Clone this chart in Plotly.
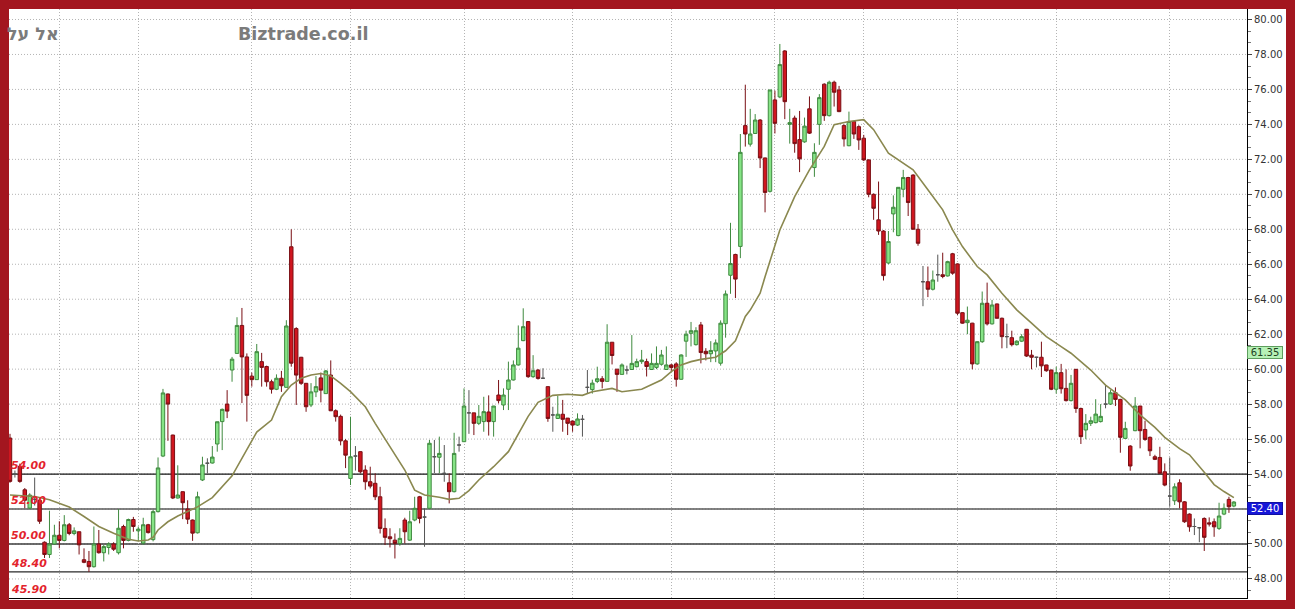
import plotly.graph_objects as go

# ---------------- data ----------------
opens = [56.06, 54.0, 54.44, 53.1, 52.05, 52.55, 52.5, 50.1, 49.4, 50.0,
         50.5, 50.2, 51.1, 50.6, 50.7, 49.1, 49.0, 48.7, 50.0, 49.5,
         49.8, 50.0, 49.5, 51.0, 50.2, 51.4, 50.75, 50.05, 51.1, 50.25,
         51.85, 55.03, 58.58, 56.23, 52.63, 52.99, 52.0, 51.37, 50.64, 53.66,
         54.62, 54.63, 55.72, 57.0, 58.0, 59.95, 60.9, 62.5, 60.7, 59.6,
         59.4, 60.43, 60.15, 59.28, 58.85, 59.48, 58.96, 67.0, 62.32, 60.68,
         59.19, 57.95, 58.7, 59.5, 58.6, 59.66, 57.62, 57.3, 55.9, 53.75,
         55.03, 55.28, 54.23, 53.56, 53.47, 52.7, 50.89, 50.41, 50.22, 50.03,
         51.37, 50.22, 51.37, 52.7, 51.54, 52.04, 54.99, 54.96, 54.04, 53.5,
         52.99, 55.66, 55.85, 57.5, 57.5, 56.9, 57.0, 57.55, 57.0, 58.52,
         57.95, 58.85, 59.38, 60.24, 61.63, 62.72, 59.57, 59.95, 59.48, 59.0,
         57.38, 57.18, 57.42, 57.2, 57.03, 56.8, 57.13, 58.96, 58.83, 59.3,
         59.45, 59.3, 61.54, 60.0, 59.7, 59.95, 59.98, 60.14, 60.43, 60.43,
         59.98, 60.1, 60.28, 59.98, 60.24, 60.3, 59.42, 61.6, 62.05, 61.4,
         62.53, 61.02, 60.88, 61.04, 60.34, 62.6, 65.37, 66.56, 67.02, 73.93,
         72.87, 73.48, 74.25, 72.08, 70.17, 75.4, 75.57, 78.2, 74.0, 74.36,
         73.13, 73.0, 74.89, 71.53, 74.0, 76.3, 74.5, 76.41, 75.97, 73.93,
         72.78, 74.17, 73.87, 73.21, 71.97, 70.0, 68.54, 67.9, 66.07, 68.88,
         67.64, 70.29, 70.96, 71.1, 68.0, 65.0, 65.0, 64.57, 65.4, 65.4,
         65.33, 66.6, 66.02, 63.23, 62.66, 62.63, 60.3, 61.57, 63.77, 62.59,
         63.73, 62.91, 61.86, 61.8, 61.4, 61.6, 62.28, 60.8, 60.68, 60.68,
         60.24, 59.95, 58.85, 59.8, 58.9, 58.2, 59.99, 57.75, 56.52, 56.9,
         56.94, 57.0, 58.0, 58.0, 58.65, 58.27, 56.04, 55.6, 56.48, 57.89,
         56.55, 56.1, 54.99, 54.95, 54.13, 52.74, 52.47, 53.5, 52.41, 51.71,
         51.0, 50.93, 51.46, 51.21, 51.27, 50.89, 51.71, 52.55, 52.17]

highs = [56.3, 54.2, 54.6, 53.2, 52.9, 53.8, 52.6, 50.15, 51.9, 51.1,
         51.3, 51.65, 51.2, 50.95, 50.7, 49.75, 49.6, 51.0, 50.8, 49.95,
         50.1, 50.1, 52.0, 51.1, 51.45, 51.55, 51.0, 51.5, 51.15, 51.95,
         54.95, 58.87, 58.6, 56.25, 54.5, 53.0, 52.5, 51.4, 52.99, 54.99,
         54.9, 55.6, 57.0, 57.75, 58.8, 60.7, 62.97, 63.5, 60.9, 59.8,
         61.44, 60.93, 60.2, 59.4, 59.7, 59.9, 62.8, 68.0, 62.4, 60.7,
         59.2, 59.2, 59.6, 59.8, 59.95, 60.5, 57.7, 57.4, 56.0, 57.28,
         55.6, 55.3, 54.5, 54.42, 54.04, 53.27, 51.46, 50.9, 50.6, 50.9,
         51.5, 51.9, 52.7, 52.75, 52.04, 55.95, 55.95, 56.14, 55.66, 54.04,
         56.36, 56.14, 58.9, 58.8, 57.5, 57.95, 58.42, 58.5, 57.9, 59.38,
         58.9, 60.43, 60.5, 62.5, 63.48, 62.75, 60.8, 60.0, 60.05, 59.0,
         57.85, 58.47, 58.24, 57.2, 57.05, 57.47, 57.38, 59.95, 59.4, 60.14,
         59.6, 62.57, 61.54, 60.0, 60.33, 60.2, 61.95, 60.6, 61.1, 60.6,
         60.9, 61.3, 61.1, 61.3, 60.3, 60.4, 60.85, 62.2, 62.7, 62.4,
         62.7, 61.2, 61.6, 61.7, 62.79, 64.5, 68.37, 66.6, 73.45, 76.27,
         74.89, 74.59, 74.3, 72.1, 75.97, 75.93, 78.6, 78.25, 74.89, 74.5,
         74.77, 74.39, 75.6, 72.92, 75.73, 76.35, 76.5, 76.5, 76.2, 74.0,
         74.73, 74.2, 73.95, 73.4, 72.0, 70.05, 70.73, 67.95, 67.9, 69.94,
         70.4, 71.4, 71.0, 71.15, 68.3, 65.9, 65.87, 65.64, 66.55, 66.66,
         66.2, 66.65, 66.05, 63.25, 63.58, 62.65, 61.6, 64.44, 64.95, 63.96,
         63.75, 62.95, 62.6, 62.2, 61.65, 62.0, 62.3, 61.1, 60.7, 61.57,
         60.25, 59.97, 60.14, 60.3, 59.99, 59.67, 60.0, 57.8, 57.43, 57.28,
         58.28, 58.0, 59.1, 58.8, 58.96, 58.3, 56.99, 55.65, 58.4, 57.9,
         57.05, 56.15, 55.1, 55.56, 54.61, 54.95, 53.47, 53.7, 52.45, 51.75,
         51.46, 50.95, 51.52, 51.52, 51.46, 52.36, 52.32, 52.7, 52.45]

lows = [53.5, 53.8, 53.5, 52.05, 52.0, 52.2, 51.15, 49.2, 49.2, 49.95,
        49.75, 50.15, 50.5, 50.5, 49.4, 48.9, 48.4, 48.65, 49.45, 49.0,
        49.4, 49.6, 49.4, 49.75, 50.15, 50.7, 50.15, 49.95, 50.6, 50.15,
        51.8, 54.97, 55.9, 52.57, 52.6, 51.42, 51.14, 50.18, 50.6, 53.6,
        54.05, 54.6, 55.28, 55.37, 57.2, 59.28, 60.9, 58.06, 57.0, 59.0,
        59.4, 59.0, 59.0, 58.6, 58.8, 58.7, 58.96, 60.14, 57.95, 59.1,
        57.56, 57.83, 58.4, 58.1, 58.6, 57.6, 57.0, 55.64, 54.34, 53.37,
        54.2, 54.04, 53.1, 53.18, 52.51, 50.6, 49.94, 49.8, 49.17, 49.9,
        50.03, 50.18, 51.3, 51.18, 49.84, 52.04, 54.06, 54.04, 53.56, 52.32,
        52.95, 55.28, 55.85, 56.3, 56.23, 56.8, 56.42, 56.2, 56.14, 58.04,
        57.66, 57.66, 59.35, 60.2, 61.6, 59.5, 59.5, 59.4, 59.45, 56.99,
        56.42, 57.15, 56.42, 56.23, 56.42, 56.75, 56.14, 58.6, 58.6, 59.2,
        58.9, 59.3, 60.27, 58.7, 59.7, 59.7, 59.98, 60.1, 60.3, 59.58,
        59.95, 60.0, 60.2, 59.95, 59.9, 59.0, 59.4, 60.7, 61.3, 61.35,
        60.33, 60.5, 60.4, 60.4, 60.2, 61.8, 64.31, 64.07, 66.35, 72.73,
        72.73, 73.45, 71.5, 68.97, 70.1, 73.48, 75.5, 74.3, 72.9, 72.38,
        71.27, 72.95, 73.45, 71.0, 72.83, 74.2, 74.45, 75.02, 74.7, 72.73,
        72.75, 73.17, 72.54, 71.9, 69.83, 68.54, 67.68, 65.07, 66.0, 67.83,
        67.6, 69.83, 68.76, 68.0, 67.06, 63.6, 64.12, 64.5, 65.0, 65.2,
        65.3, 65.4, 63.1, 62.6, 62.0, 59.99, 60.25, 61.5, 62.5, 62.55,
        62.9, 61.19, 61.2, 61.3, 61.35, 61.55, 60.7, 59.99, 60.1, 59.55,
        59.85, 58.8, 58.6, 58.6, 58.15, 58.15, 57.5, 55.72, 55.99, 56.75,
        56.9, 56.95, 57.76, 57.95, 57.89, 55.22, 56.0, 54.19, 56.45, 55.47,
        55.9, 55.03, 54.8, 54.0, 53.3, 52.13, 52.23, 52.04, 51.21, 50.7,
        50.51, 50.1, 49.6, 51.0, 50.41, 50.8, 51.65, 51.78, 52.1]

closes = [53.58, 54.0, 53.58, 52.5, 52.8, 52.55, 51.3, 49.4, 50.0, 50.5,
          50.2, 51.1, 50.6, 50.75, 49.95, 48.95, 48.7, 50.0, 49.5, 49.85,
          50.0, 49.7, 50.9, 50.2, 51.4, 51.0, 50.85, 51.1, 50.65, 51.85,
          54.35, 58.64, 58.0, 52.63, 52.8, 52.36, 51.42, 50.62, 52.7, 54.52,
          54.62, 54.97, 56.99, 57.7, 57.6, 60.57, 62.5, 60.7, 58.5, 59.4,
          61.0, 60.1, 59.28, 58.85, 59.48, 59.05, 62.47, 60.34, 59.66, 59.19,
          57.85, 58.7, 59.0, 58.8, 59.9, 57.62, 57.28, 55.9, 55.08, 54.99,
          55.03, 54.13, 53.56, 53.31, 52.7, 50.89, 50.38, 50.3, 50.03, 50.32,
          50.7, 51.27, 52.04, 51.46, 51.54, 55.76, 54.99, 55.18, 54.04, 52.99,
          55.18, 55.66, 57.89, 57.5, 56.9, 57.3, 57.57, 57.0, 57.89, 58.2,
          58.52, 59.38, 60.24, 61.2, 62.43, 59.57, 59.91, 59.47, 59.48, 57.18,
          57.38, 57.42, 57.13, 56.9, 56.8, 57.15, 57.13, 58.96, 59.2, 59.45,
          59.3, 61.54, 60.78, 59.7, 60.24, 59.95, 60.33, 60.43, 60.52, 60.15,
          60.33, 60.33, 60.81, 60.24, 60.1, 59.42, 60.81, 62.0, 62.2, 62.2,
          60.95, 60.88, 61.07, 61.5, 62.63, 64.3, 66.04, 65.15, 72.4, 73.45,
          73.45, 74.25, 72.08, 70.11, 75.97, 74.06, 77.42, 75.3, 74.1, 72.9,
          72.03, 73.9, 73.5, 72.4, 75.53, 74.5, 76.41, 75.84, 74.73, 73.17,
          74.17, 73.45, 73.11, 71.97, 70.0, 69.2, 67.9, 65.35, 67.3, 69.26,
          70.4, 70.96, 69.53, 68.0, 67.2, 65.0, 64.57, 65.1, 65.4, 65.3,
          66.15, 65.49, 63.2, 62.63, 62.8, 60.3, 61.57, 63.77, 62.59, 63.67,
          62.91, 61.86, 61.86, 61.4, 61.6, 61.86, 60.75, 60.68, 60.68, 60.19,
          59.91, 58.85, 59.8, 58.88, 58.2, 59.19, 57.75, 56.14, 56.9, 57.05,
          57.43, 57.3, 58.0, 58.65, 58.27, 56.1, 56.61, 54.46, 57.89, 56.48,
          55.98, 55.33, 54.84, 54.04, 53.37, 52.74, 53.27, 52.41, 51.27, 50.98,
          51.0, 50.93, 50.38, 51.14, 50.98, 51.6, 52.04, 52.13, 52.4]

# moving-average line, read at selected candle positions
ma_idx = [0, 5, 8, 12, 15, 18, 21, 24, 26, 28, 29, 30, 32, 34, 38, 41, 45, 47, 48, 50,
          53, 55, 57, 59, 61, 63, 65, 67, 69, 72, 74, 77, 80, 82, 84, 87, 89, 91, 93, 95,
          98, 101, 103, 105, 107, 110, 113, 116, 118, 122, 124, 128, 132, 134, 136, 138,
          140, 142, 143, 145, 147, 149, 150, 152, 153, 156, 159, 162, 165, 167, 170, 173,
          175, 178, 180, 183, 186, 189, 191, 193, 196, 198, 201, 204, 207, 210, 213, 215,
          219, 222, 226, 229, 232, 234, 237, 239, 242, 244, 246, 248]
ma_val = [52.80, 52.72, 52.53, 52.11, 51.57, 51.00, 50.61, 50.27, 50.17, 50.23, 50.38, 50.80,
          51.27, 51.60, 52.12, 52.65, 53.90, 54.90, 55.40, 56.40,
          57.09, 58.42, 59.09, 59.48, 59.67, 59.75, 59.61, 59.19, 58.71, 57.85, 56.90, 55.56,
          54.23, 53.08, 52.80, 52.67, 52.55, 52.61, 53.05, 53.66,
          54.42, 55.28, 56.30, 57.30, 58.10, 58.50, 58.56, 58.50, 58.71, 58.90, 58.71, 58.85,
          59.38, 59.86, 60.24, 60.43,
          60.56, 60.62, 60.68, 61.05, 61.62, 63.01, 63.38, 64.34, 65.29, 67.96, 69.87, 71.40,
          72.74, 73.98, 74.17, 74.27,
          73.70, 72.36, 71.97, 71.40, 70.26, 69.11, 67.97, 67.01, 65.87, 65.39, 64.34, 63.39,
          62.63, 61.86, 61.29, 60.91,
          59.95, 59.09, 58.24, 57.38, 56.67, 56.10, 55.45, 55.10, 54.10, 53.40, 53.00, 52.65]

month_starts = [10, 26, 49, 69, 92, 114, 134, 155, 173, 192, 212, 235]

# price-axis labels (52.00 is hidden behind the last-price box in the reference)
y_ticks = [48, 50, 54, 56, 58, 60, 62, 64, 66, 68, 70, 72, 74, 76, 78, 80]
grid_levels = [48, 50, 52, 54, 56, 58, 60, 62, 64, 66, 68, 70, 72, 74, 76, 78, 80]

level_values = [54.0, 52.0, 50.0, 48.4]
level_colors = ["#141414", "#5a5a5a", "#3c3c3c", "#2a2a2a"]
level_labels = ["54.00", "52.00", "50.00", "48.40", "45.90"]
label_values = [54.0, 52.0, 50.0, 48.4, 45.9]

last_price = 52.40
marker_price = 61.35

# ---------------- geometry ----------------
W, H = 1295, 609
ML, MR, MT, MB = 9, 48, 9, 11
PW, PH = W - ML - MR, H - MT - MB
YMIN, YMAX = 46.91, 80.6


def px_x(px):
    return (px - ML) / PW


def px_y(py):
    return (H - MB - py) / PH


n = len(closes)
idx = list(range(n))
is_doji = [o == c for o, c in zip(opens, closes)]
nd = [i for i in idx if not is_doji[i]]
dj = [i for i in idx if is_doji[i]]

fig = go.Figure()
fig.add_trace(go.Candlestick(
    x=nd, open=[opens[i] for i in nd], high=[highs[i] for i in nd],
    low=[lows[i] for i in nd], close=[closes[i] for i in nd],
    increasing=dict(line=dict(color="#3f8a3f", width=1), fillcolor="#86e486"),
    decreasing=dict(line=dict(color="#7a0f14", width=1), fillcolor="#d0161f"),
    whiskerwidth=0, showlegend=False, hoverinfo="skip"))
fig.add_trace(go.Candlestick(
    x=dj, open=[opens[i] for i in dj], high=[highs[i] for i in dj],
    low=[lows[i] for i in dj], close=[closes[i] for i in dj],
    increasing=dict(line=dict(color="#555555", width=1), fillcolor="#555555"),
    decreasing=dict(line=dict(color="#555555", width=1), fillcolor="#555555"),
    whiskerwidth=0, showlegend=False, hoverinfo="skip"))
fig.add_trace(go.Scatter(
    x=ma_idx, y=ma_val, mode="lines", line=dict(color="#8a884f", width=1.6),
    showlegend=False, hoverinfo="skip"))

shapes = [dict(type="rect", xref="paper", yref="paper", x0=0, x1=px_x(1286),
               y0=px_y(600), y1=1, fillcolor="white", line=dict(width=0), layer="below")]
for g in grid_levels:
    shapes.append(dict(type="line", xref="paper", yref="y", x0=0, x1=1, y0=g, y1=g,
                       line=dict(color="#b4b4b4", width=1, dash="1px,2px"), layer="below"))
for v, col in zip(level_values, level_colors):
    shapes.append(dict(type="line", xref="paper", yref="y", x0=0, x1=1, y0=v, y1=v,
                       line=dict(color=col, width=1.3), layer="below"))

label_font = dict(family="DejaVu Sans", size=11, color="#e3232c", style="italic",
                  weight="bold")
annotations = []
for txt, v in zip(level_labels, label_values):
    if v >= YMIN:
        annotations.append(dict(xref="paper", yref="y", x=0, y=v, xanchor="left",
                                yanchor="bottom", text=txt, showarrow=False, yshift=0,
                                font=label_font))
    else:
        annotations.append(dict(xref="paper", yref="paper", x=0, y=0, xanchor="left",
                                yanchor="bottom", text=txt, showarrow=False, yshift=0,
                                font=label_font))

annotations.append(dict(xref="paper", yref="paper", x=px_x(61), y=px_y(34),
                        xanchor="right", yanchor="middle", text="<b>אל על</b>",
                        showarrow=False,
                        font=dict(family="DejaVu Sans", size=17.5, color="#7b7b7b")))
annotations.append(dict(xref="paper", yref="paper", x=px_x(236), y=px_y(34),
                        xanchor="left", yanchor="middle", text="<b>Biztrade.co.il</b>",
                        showarrow=False,
                        font=dict(family="DejaVu Sans", size=17.5, color="#7b7b7b")))
annotations.append(dict(xref="paper", yref="y", x=1, y=marker_price, xanchor="left",
                        yanchor="top", text=f"{marker_price:.2f}", showarrow=False,
                        bgcolor="#b6f1b6", bordercolor="#5e9e5e", borderwidth=1,
                        width=34, height=11, borderpad=0,
                        font=dict(family="DejaVu Sans", size=10, color="#1f3f1f")))
annotations.append(dict(xref="paper", yref="y", x=1, y=last_price, xanchor="left",
                        yanchor="top", text=f"{last_price:.2f}", showarrow=False,
                        bgcolor="#1616d8", bordercolor="#1010a0", borderwidth=1,
                        width=34, height=11, borderpad=0,
                        font=dict(family="DejaVu Sans", size=10, color="white")))

fig.update_layout(
    width=W, height=H, margin=dict(l=ML, r=MR, t=MT, b=MB),
    paper_bgcolor="#a3161f", plot_bgcolor="white", showlegend=False,
    boxgap=0.3, boxgroupgap=0, hovermode=False,
    shapes=shapes, annotations=annotations)

fig.update_xaxes(range=[-0.2, 250.66], tickmode="array", tickvals=month_starts,
                 showticklabels=False, ticks="", showgrid=True, gridcolor="#b4b4b4",
                 griddash="1px,2px", gridwidth=1, zeroline=False, showline=True,
                 linecolor="#000000", linewidth=1, rangeslider_visible=False)
fig.update_yaxes(side="right", range=[YMIN, YMAX], tickmode="array", tickvals=y_ticks,
                 tickformat=".2f", showgrid=False,
                 zeroline=False, showline=True, linecolor="#000000", linewidth=1,
                 ticks="outside", ticklen=4, tickcolor="#444444",
                 tickfont=dict(family="DejaVu Sans", size=10, color="#333333"),
                 minor=dict(dtick=2 / 3, tick0=0, ticks="outside", ticklen=3,
                            tickcolor="#777777", showgrid=False))

fig.write_html("out.html", config={"displayModeBar": False},
               post_script="document.body.style.margin='0px';document.body.style.padding='0px';")
